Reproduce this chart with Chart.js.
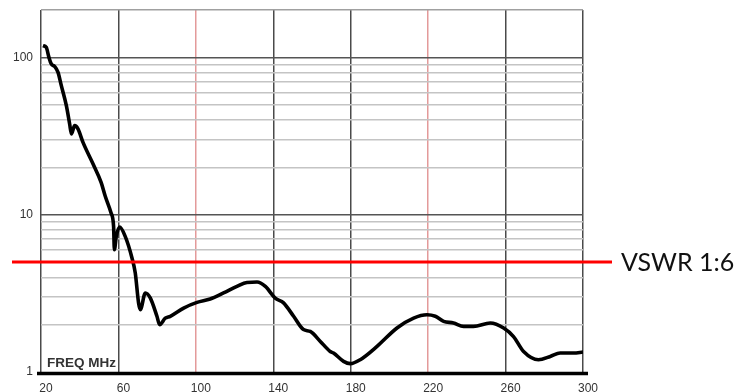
<!DOCTYPE html>
<html>
<head>
<meta charset="utf-8">
<script src="https://cdn.jsdelivr.net/npm/chart.js@4/dist/chart.umd.min.js"></script>
<style>
  html, body { margin: 0; padding: 0; background: #ffffff; }
  #wrap { width: 739px; height: 392px; }
</style>
</head>
<body>
<div id="wrap"><canvas id="c" width="739" height="392"></canvas></div>
<script>
// Measured response across the band (MHz vs. level, log scale)
const freqMHz = [
  21.0, 22.7, 24.1, 25.3, 27.0, 28.8, 30.5, 33.1, 34.8, 35.7,
  37.4, 39.1, 41.7, 46.9, 51.1, 53.2, 56.2, 57.5, 57.9, 58.9,
  60.6, 63.5, 67.0, 68.7, 70.4, 71.3, 73.9, 76.5, 79.9, 81.3,
  84.2, 86.8, 93.7, 100.6, 107.4, 114.3, 121.2, 126.4, 131.6, 135.9,
  141.0, 145.3, 150.5, 155.6, 159.1, 164.3, 169.4, 171.1, 176.3, 179.8,
  184.9, 193.6, 203.9, 212.5, 219.4, 223.7, 228.0, 233.1, 238.3, 243.4,
  252.1, 259.0, 264.1, 269.3, 277.0, 283.1, 288.2, 295.1, 300.0
];
const level = [
  118.7, 115.8, 100, 90.8, 87.7, 80.3, 66.1, 49.3, 37.7, 32.6,
  36.8, 35.1, 28.8, 21.0, 16.0, 13.1, 10.25, 8.43, 5.99, 7.28,
  8.35, 7.28, 5.31, 4.26, 2.75, 2.49, 3.18, 2.95, 2.26, 2.0,
  2.20, 2.26, 2.55, 2.77, 2.91, 3.18, 3.50, 3.71, 3.73, 3.50,
  2.95, 2.75, 2.26, 1.86, 1.81, 1.565, 1.35, 1.32, 1.168, 1.13,
  1.197, 1.455, 1.905, 2.20, 2.31, 2.26, 2.10, 2.05, 1.95, 1.95,
  2.05, 1.905, 1.68, 1.35, 1.197, 1.256, 1.32, 1.32, 1.34
];

const xTicks = [20, 60, 100, 140, 180, 220, 260, 300];
const redXLines = [100, 220];
const yTicks = [1, 2, 3, 4, 5, 6, 7, 8, 9, 10, 20, 30, 40, 50, 60, 70, 80, 90, 100, 200];
const yLabels = [1, 10, 100];
const refLevel = 5;
const refText = 'VSWR 1:6';
const axisText = 'FREQ MHz';

const overlay = {
  id: 'overlay',
  afterDatasetsDraw(chart) {
    const { ctx, chartArea, scales } = chart;
    ctx.save();
    // heavy baseline under the plot
    ctx.strokeStyle = '#000000';
    ctx.lineWidth = 3.5;
    ctx.beginPath();
    ctx.moveTo(chartArea.left - 4, chartArea.bottom + 1.5);
    ctx.lineTo(chartArea.right + 5, chartArea.bottom + 1.5);
    ctx.stroke();

    // axis caption inside the plot
    ctx.fillStyle = '#333333';
    ctx.font = 'bold 13.5px "Liberation Sans", Arial, sans-serif';
    ctx.textBaseline = 'alphabetic';
    ctx.textAlign = 'left';
    ctx.fillText(axisText, chartArea.left + 6, chartArea.bottom - 5);

    // reference level line with its label
    const y = scales.y.getPixelForValue(refLevel);
    ctx.strokeStyle = '#ff0000';
    ctx.lineWidth = 3;
    ctx.beginPath();
    ctx.moveTo(12, y);
    ctx.lineTo(chartArea.right + 29, y);
    ctx.stroke();

    ctx.fillStyle = '#111111';
    ctx.font = '25px Lato, "Open Sans", sans-serif';
    ctx.textBaseline = 'middle';
    ctx.fillText(refText, chartArea.right + 38, y + 0.5);
    ctx.restore();
  }
};

new Chart(document.getElementById('c'), {
  type: 'line',
  data: {
    datasets: [{
      data: freqMHz.map((f, i) => ({ x: f, y: level[i] })),
      borderColor: '#000000',
      borderWidth: 3.6,
      pointRadius: 0,
      cubicInterpolationMode: 'monotone',
      fill: false
    }]
  },
  options: {
    responsive: false,
    animation: false,
    devicePixelRatio: 1,
    layout: { padding: { top: 10, right: 156, left: 0, bottom: 0 } },
    plugins: { legend: { display: false }, tooltip: { enabled: false } },
    scales: {
      x: {
        type: 'linear',
        min: 20,
        max: 300,
        afterBuildTicks: s => { s.ticks = xTicks.map(v => ({ value: v })); },
        afterFit: s => { s.height = 20; s.paddingLeft = 0; s.paddingRight = 0; },
        border: { display: false },
        grid: {
          drawTicks: false,
          lineWidth: 1.5,
          color: c => redXLines.includes(c.tick && c.tick.value) ? '#e39a9a' : '#4a4a4a'
        },
        ticks: {
          autoSkip: false,
          maxRotation: 0,
          labelOffset: 5,
          padding: 9,
          color: '#333333',
          font: { family: '"Liberation Sans", Arial, sans-serif', size: 12 },
          callback: v => String(v)
        }
      },
      y: {
        type: 'logarithmic',
        min: 1,
        max: 200,
        afterBuildTicks: s => { s.ticks = yTicks.map(v => ({ value: v })); },
        afterFit: s => { s.width = 41; s.paddingTop = 0; s.paddingBottom = 0; },
        border: { display: false },
        grid: {
          drawTicks: false,
          lineWidth: c => {
            const v = c.tick && c.tick.value;
            return v === 1 ? 0 : 1.5;
          },
          color: c => {
            const v = c.tick && c.tick.value;
            if (v === 10 || v === 100) return '#555555';
            if (v === 200) return '#a0a0a0';
            return '#c4c4c4';
          }
        },
        ticks: {
          autoSkip: false,
          padding: 8,
          color: '#333333',
          font: { family: '"Liberation Sans", Arial, sans-serif', size: 12 },
          callback: v => yLabels.includes(v) ? String(v) : ''
        }
      }
    }
  },
  plugins: [overlay]
});
</script>
</body>
</html>
